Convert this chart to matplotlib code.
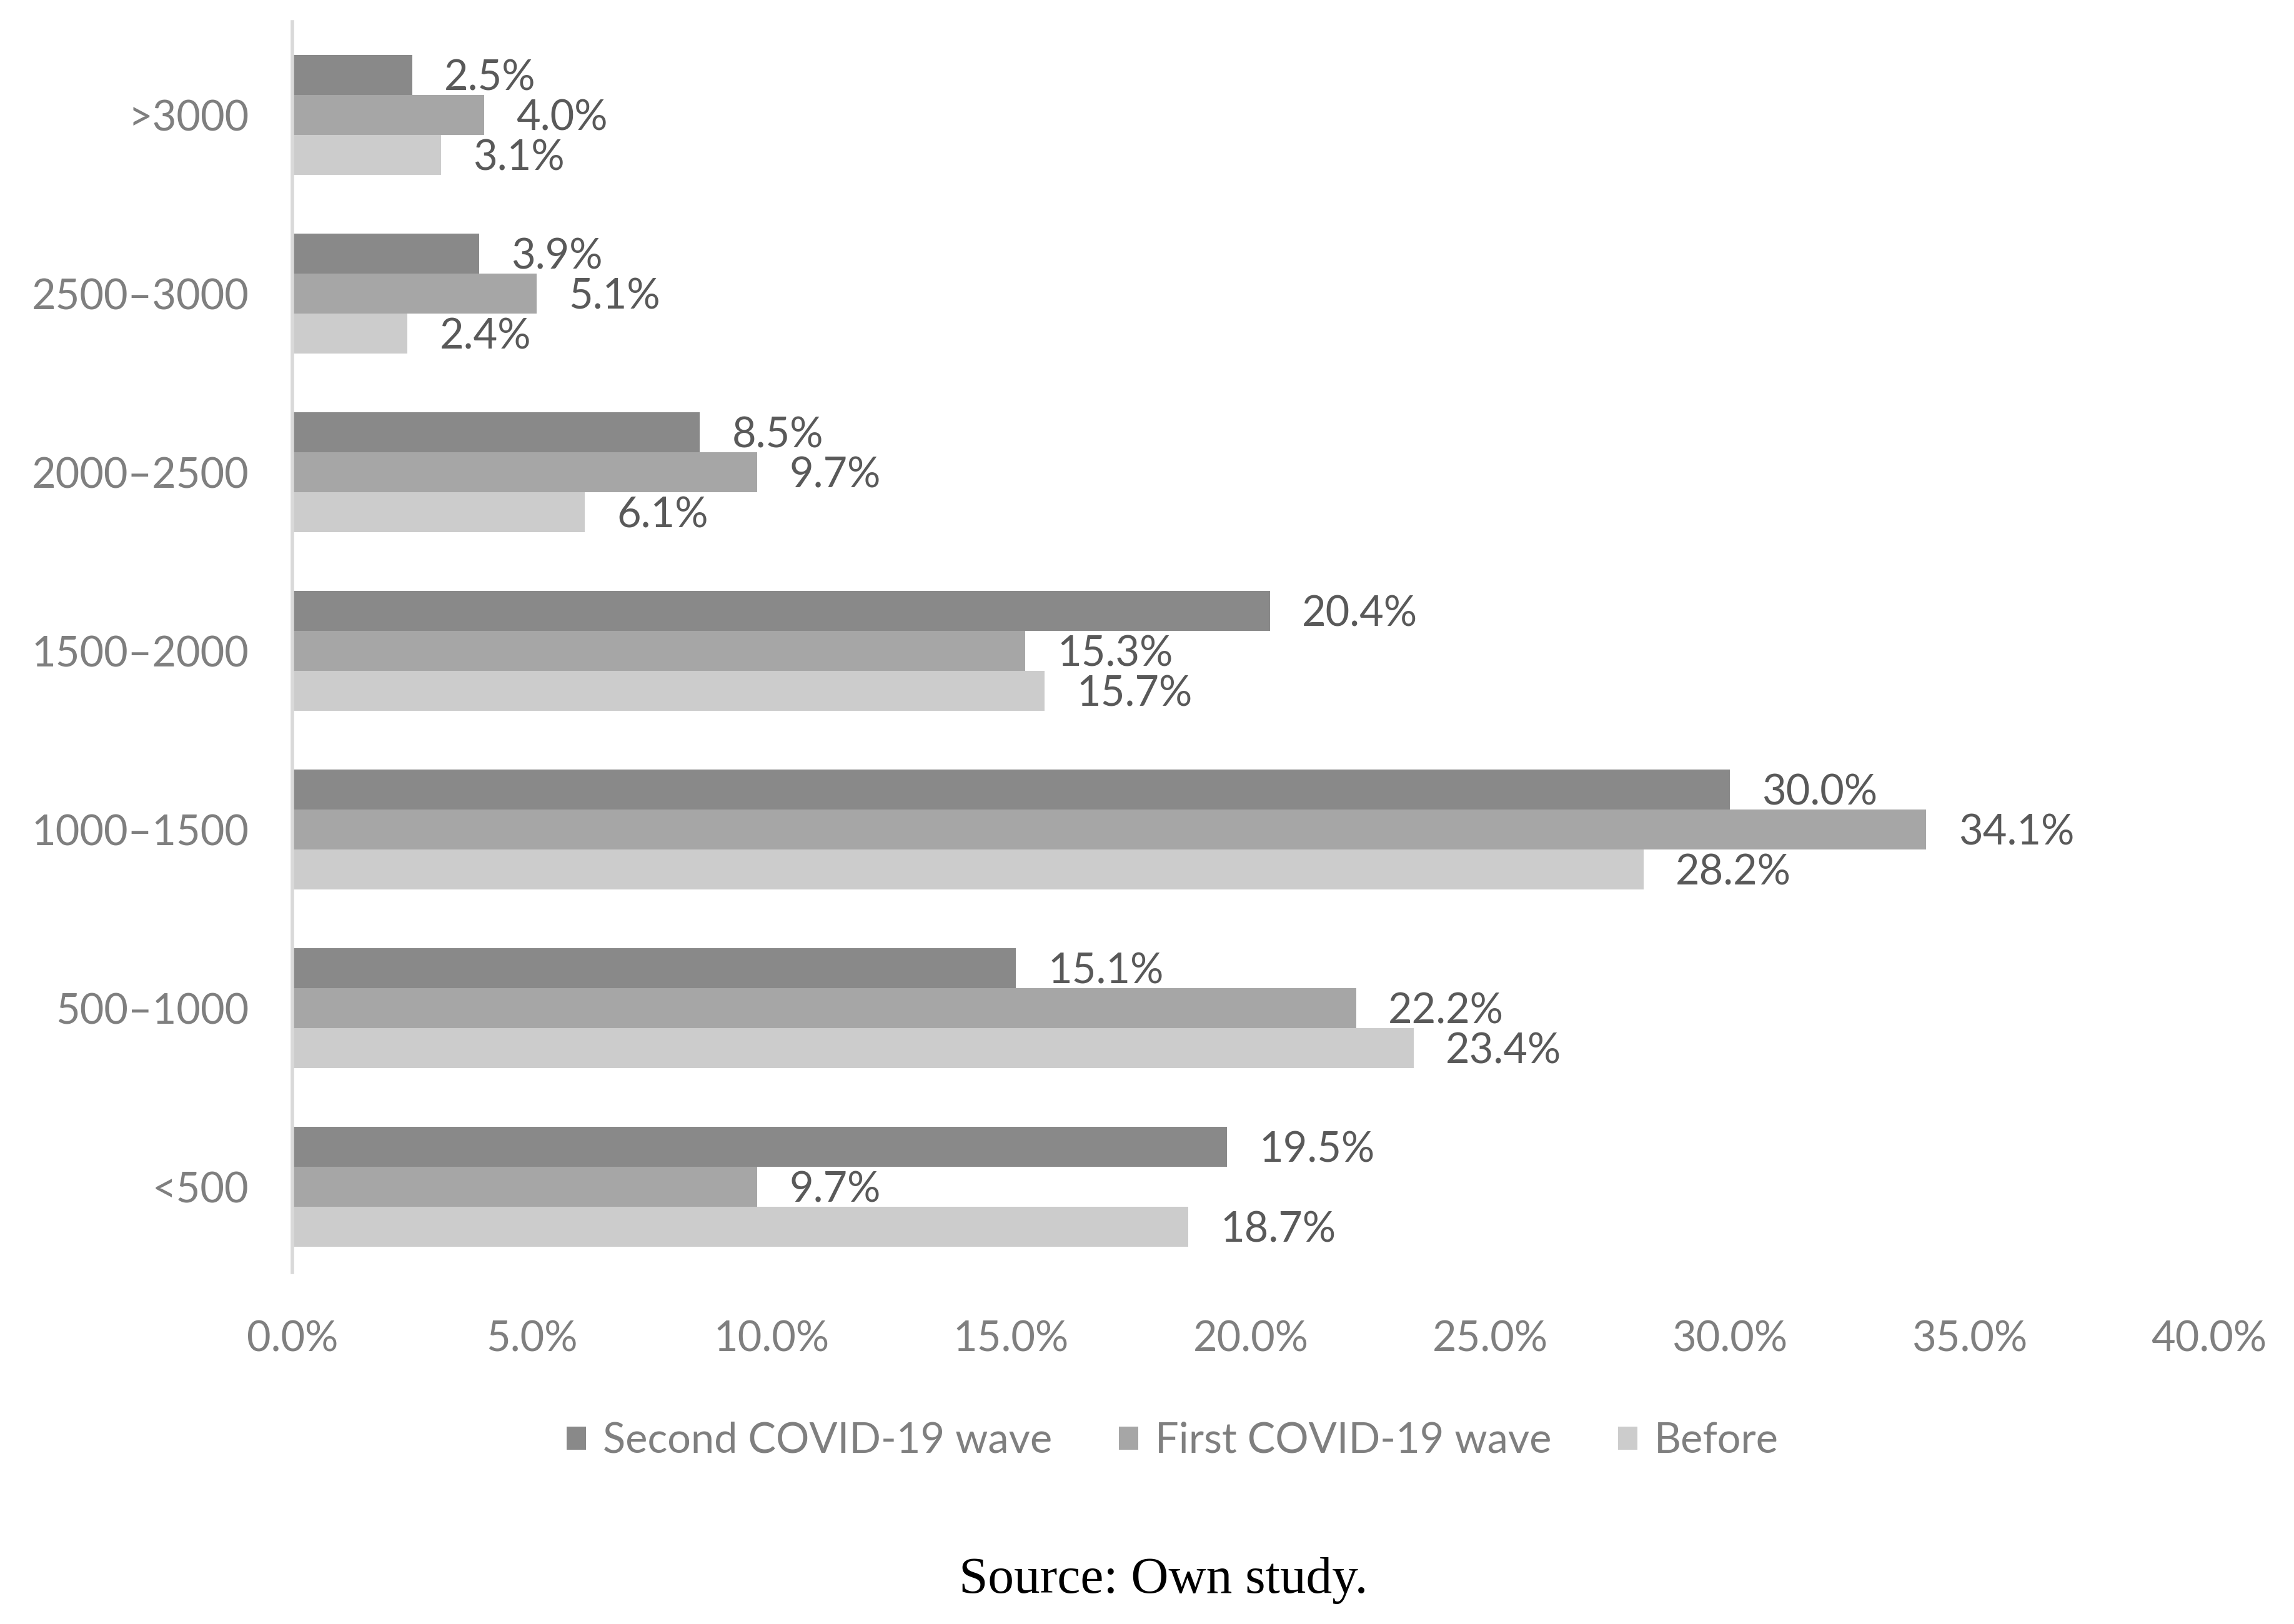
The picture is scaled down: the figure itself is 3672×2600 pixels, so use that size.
import numpy as np
import matplotlib.pyplot as plt
from matplotlib.ticker import FuncFormatter

# Data
categories = ['<500', '500–1000', '1000–1500', '1500–2000', '2000–2500', '2500–3000', '>3000']
second_wave = [19.5, 15.1, 30.0, 20.4, 8.5, 3.9, 2.5]
first_wave = [9.7, 22.2, 34.1, 15.3, 9.7, 5.1, 4.0]
before = [18.7, 23.4, 28.2, 15.7, 6.1, 2.4, 3.1]
series_names = ['Second COVID-19 wave', 'First COVID-19 wave', 'Before']

colors = ['#898989', '#a6a6a6', '#cccccc']
plt.rcParams['font.family'] = ['Lato', 'DejaVu Sans']

fig = plt.figure(figsize=(36.73, 26), dpi=100)
ax = fig.add_axes([0.1274, 0.2165, 0.8353, 0.77])

y = np.arange(len(categories))
h = 0.224
offsets = [h, 0, -h]
all_series = [second_wave, first_wave, before]

for vals, off, col, name in zip(all_series, offsets, colors, series_names):
    bars = ax.barh(y + off, vals, height=h, color=col, label=name)
    for b, v in zip(bars, vals):
        ax.annotate(f'{v:.1f}%', (b.get_width(), b.get_y() + b.get_height() / 2),
                    xytext=(37, -4), textcoords='offset points',
                    ha='left', va='center', fontsize=48, color='#595959')

ax.set_xlim(0, 40)
ax.set_ylim(-0.479, 6.521)
ax.set_yticks(y)
ax.set_yticklabels(categories)
ax.set_xticks(np.arange(0, 41, 5))
ax.xaxis.set_major_formatter(FuncFormatter(lambda v, p: f'{v:.1f}%'))

for s in ['top', 'right', 'bottom']:
    ax.spines[s].set_visible(False)
ax.spines['left'].set_color('#d9d9d9')
ax.spines['left'].set_linewidth(4)

ax.tick_params(axis='y', length=0, pad=50, labelsize=48, labelcolor='#7f7f7f')
ax.tick_params(axis='x', length=0, pad=55, labelsize=48, labelcolor='#7f7f7f')

fig.legend(loc='center', bbox_to_anchor=(0.511, 0.1127), ncol=3, frameon=False,
           fontsize=48, labelcolor='#7f7f7f', handlelength=0.47, handleheight=0.47,
           handletextpad=0.4, columnspacing=1.6)

fig.text(0.507, 0.027, 'Source: Own study.', ha='center', va='center',
         fontsize=60, color='black', family=['Liberation Serif', 'DejaVu Serif'])

fig.savefig('out.png', dpi=100)
